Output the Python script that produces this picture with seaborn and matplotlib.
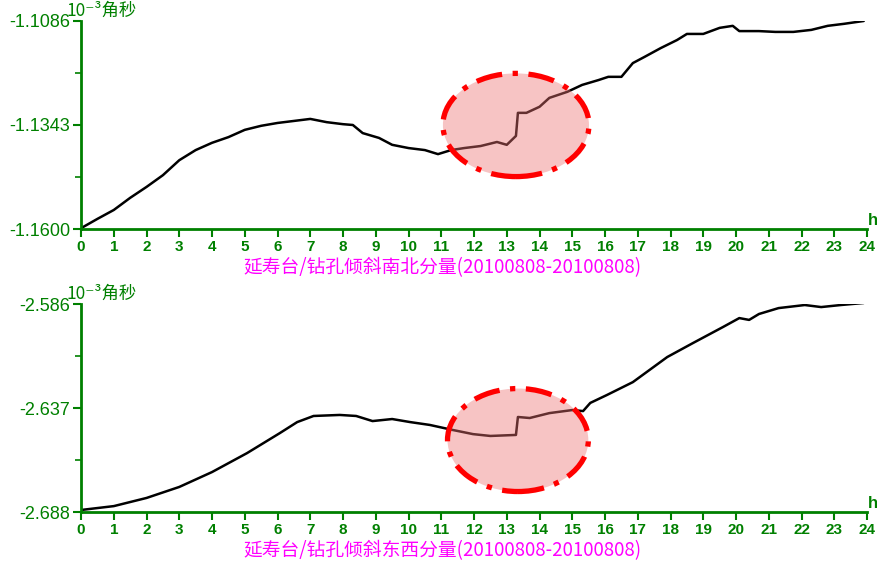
import matplotlib
matplotlib.use("Agg")
import matplotlib.pyplot as plt
import matplotlib.patches as mpatches
import numpy as np
import pandas as pd
import seaborn as sns

# 南北分量 (hours, 10^-3 arcsec)
NS_HOURS = [0.0, 0.5, 1.0, 1.5, 2.0, 2.5, 3.0, 3.5, 4.0, 4.5, 5.0, 5.5, 6.0, 6.5, 7.0,
            7.5, 8.0, 8.3, 8.6, 9.1, 9.5, 10.0, 10.5, 10.9, 11.3, 11.7, 12.2, 12.7,
            13.0, 13.28, 13.34, 13.6, 14.0, 14.3, 14.85, 15.3, 15.8, 16.1, 16.5,
            16.85, 17.2, 17.7, 18.2, 18.5, 19.0, 19.5, 19.9, 20.1, 20.7, 21.2,
            21.75, 22.3, 22.8, 23.3, 23.9]
NS_VALUES = [-1.1598, -1.1575, -1.1553, -1.1523, -1.1496, -1.1467, -1.1430, -1.1405,
             -1.1387, -1.1373, -1.1355, -1.1345, -1.1338, -1.1333, -1.1328, -1.1336,
             -1.1341, -1.1343, -1.1363, -1.1375, -1.1392, -1.1400, -1.1405, -1.1415,
             -1.1405, -1.1400, -1.1395, -1.1385, -1.1392, -1.1370, -1.1313, -1.1313,
             -1.1298, -1.1276, -1.1261, -1.1244, -1.1232, -1.1224, -1.1224, -1.1190,
             -1.1175, -1.1153, -1.1133, -1.1118, -1.1118, -1.1103, -1.1098, -1.1111,
             -1.1111, -1.1113, -1.1113, -1.1108, -1.1098, -1.1093, -1.1086]

# 东西分量
EW_HOURS = [0.0, 1.0, 2.0, 3.0, 4.0, 5.07, 6.07, 6.6, 7.1, 7.9, 8.4, 8.9, 9.5, 10.05,
            10.65, 11.36, 11.97, 12.5, 13.28, 13.34, 13.7, 14.3, 15.0, 15.33, 15.55,
            16.06, 16.85, 17.9, 18.69, 19.6, 20.1, 20.4, 20.7, 21.3, 22.1, 22.6,
            23.2, 23.9]
EW_VALUES = [-2.6870, -2.6851, -2.6811, -2.6757, -2.6684, -2.6591, -2.6493, -2.6439,
             -2.6409, -2.6404, -2.6409, -2.6434, -2.6424, -2.6439, -2.6453, -2.6478,
             -2.6498, -2.6507, -2.6502, -2.6414, -2.6419, -2.6395, -2.6380, -2.6385,
             -2.6345, -2.6306, -2.6243, -2.6120, -2.6051, -2.5973, -2.5929, -2.5938,
             -2.5909, -2.5880, -2.5865, -2.5875, -2.5865, -2.5855]

NS_TICKS = [-1.1600, -1.1343, -1.1086]
NS_TICK_LABELS = ["-1.1600", "-1.1343", "-1.1086"]
EW_TICKS = [-2.688, -2.637, -2.586]
EW_TICK_LABELS = ["-2.688", "-2.637", "-2.586"]
X_TICKS = list(range(0, 25))

NS_TITLE = "延寿台/钻孔倾斜南北分量(20100808-20100808)"
EW_TITLE = "延寿台/钻孔倾斜东西分量(20100808-20100808)"
UNIT = "10⁻³角秒"

# anomaly ellipses: (centre hour, centre value, width h, height)
NS_ELLIPSE = (13.28, -1.1343, 4.46, 0.0255)
EW_ELLIPSE = (13.34, -2.6527, 4.30, 0.0505)

GREEN = "#008000"
MAGENTA = "#ff00ff"
LATIN = ["Liberation Sans", "DejaVu Sans"]
CJK = ["Noto Sans CJK SC", "DejaVu Sans"]

sns.set_theme(style="white")
plt.rcParams["font.family"] = CJK
plt.rcParams["axes.unicode_minus"] = False

fig = plt.figure(figsize=(8.78, 5.61), dpi=100)
ax_top = fig.add_axes([0.0923, 0.5918, 0.8952, 0.3708])
ax_bot = fig.add_axes([0.0923, 0.0873, 0.8952, 0.3708])


def panel(ax, hours, values, ticks, labels, title, ell):
    df = pd.DataFrame({"h": hours, "v": values})
    sns.lineplot(data=df, x="h", y="v", ax=ax, color="black", linewidth=1.8,
                 estimator=None, sort=False)
    ax.set_xlim(0, 24)
    ax.set_ylim(ticks[0], ticks[-1])
    ax.set_xticks(X_TICKS)
    ax.set_xticklabels([str(t) for t in X_TICKS], fontsize=11, color=GREEN,
                       fontweight="bold", family=LATIN)
    ax.set_yticks(ticks)
    ax.set_yticklabels(labels, fontsize=13, color=GREEN, family=LATIN)
    ax.set_yticks([(ticks[0] + ticks[1]) / 2, (ticks[1] + ticks[2]) / 2], minor=True)
    ax.tick_params(axis="both", which="major", direction="out", length=6, width=1.5,
                   color=GREEN, left=True, bottom=True, pad=2)
    ax.tick_params(axis="y", which="minor", direction="out", length=4, width=1.2,
                   color=GREEN, left=True)
    for side in ("top", "right"):
        ax.spines[side].set_visible(False)
    for side in ("left", "bottom"):
        ax.spines[side].set_color(GREEN)
        ax.spines[side].set_linewidth(2)
    ax.set_xlabel(title, color=MAGENTA, fontsize=13.5)
    ax.xaxis.set_label_coords(0.46, -0.135)
    ax.set_ylabel("")
    ax.grid(False)
    cx, cy, w, h = ell
    ax.add_patch(mpatches.Ellipse((cx, cy), w, h, facecolor=(0.93, 0.45, 0.45, 0.42),
                                  edgecolor="#ff0000", linewidth=3.8,
                                  linestyle=(0, (5, 2, 1, 2)), zorder=5, clip_on=False))
    ax.text(-0.019, 1.005, UNIT, transform=ax.transAxes, color=GREEN, fontsize=12.5,
            ha="left", va="bottom")
    ax.text(1.001, 0.005, "h", transform=ax.transAxes, color=GREEN, fontsize=12,
            ha="left", va="bottom", family=LATIN, fontweight="bold")


panel(ax_top, NS_HOURS, NS_VALUES, NS_TICKS, NS_TICK_LABELS, NS_TITLE, NS_ELLIPSE)
panel(ax_bot, EW_HOURS, EW_VALUES, EW_TICKS, EW_TICK_LABELS, EW_TITLE, EW_ELLIPSE)

fig.savefig("out.png", dpi=100)
